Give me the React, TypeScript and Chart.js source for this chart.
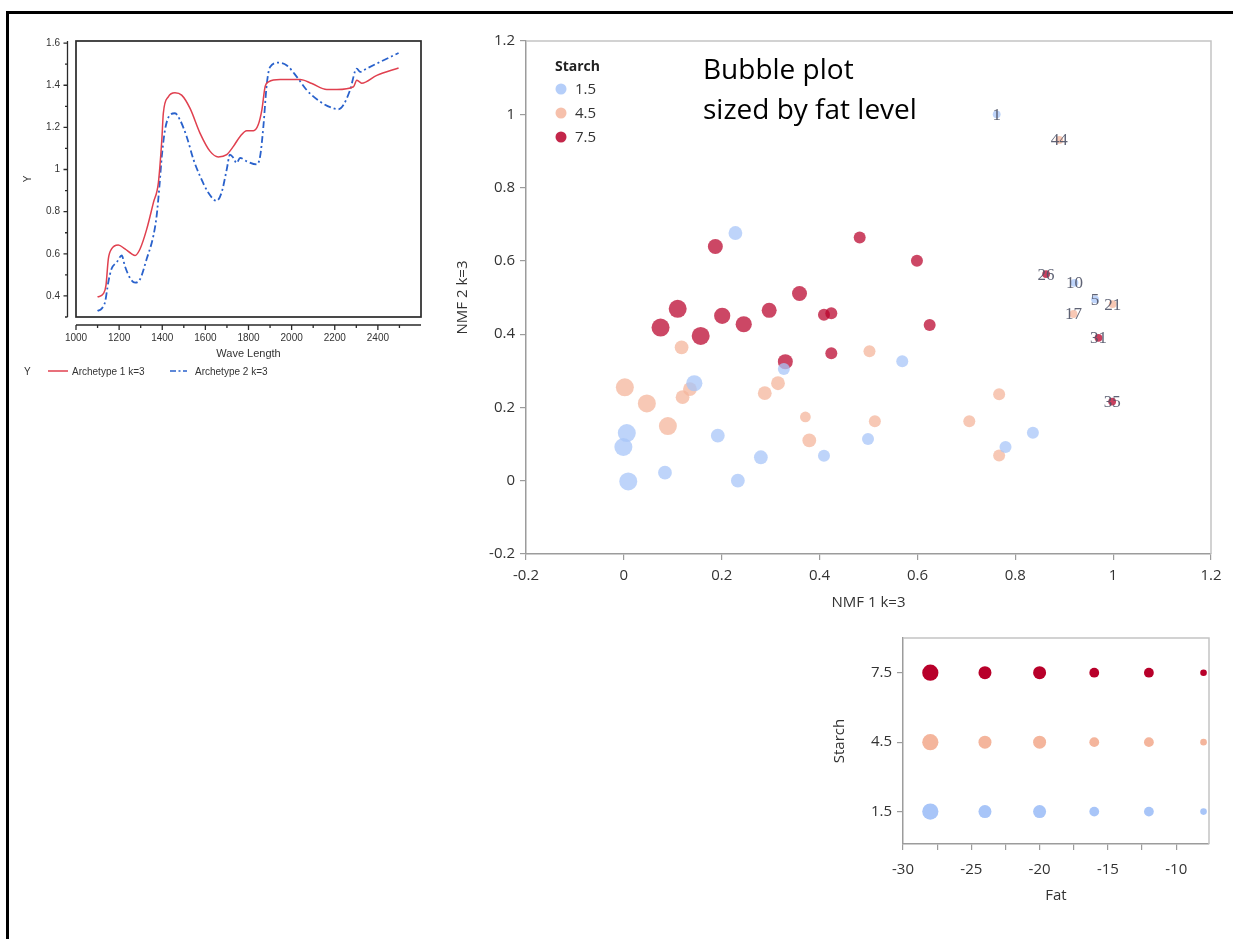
import React, { useEffect, useRef } from "react";
import { Chart, registerables } from "chart.js";
Chart.register(...registerables);

const FONT = "'Open Sans', 'Noto Sans', sans-serif";
const SMALL_FONT = "'Liberation Sans', Arial, sans-serif";
const LABEL_FONT = "'Liberation Serif', 'DejaVu Serif', serif";

// ---------- Spectrum chart (top-left) ----------
const arch1Wave = [1100, 1127, 1139, 1150, 1165, 1196, 1227, 1258, 1274, 1297, 1328, 1359, 1382, 1398, 1405, 1428, 1459, 1490, 1529, 1575, 1622, 1660, 1699, 1730, 1761, 1792, 1823, 1845, 1862, 1877, 1893, 1947, 2039, 2094, 2163, 2210, 2287, 2302, 2315, 2325, 2395, 2496];
const arch1Y = [0.395, 0.411, 0.45, 0.576, 0.623, 0.642, 0.623, 0.6, 0.592, 0.623, 0.717, 0.843, 0.937, 1.141, 1.267, 1.345, 1.364, 1.353, 1.29, 1.173, 1.086, 1.06, 1.071, 1.11, 1.157, 1.184, 1.184, 1.212, 1.283, 1.393, 1.416, 1.427, 1.427, 1.408, 1.38, 1.38, 1.393, 1.424, 1.416, 1.41, 1.447, 1.482];
const arch2Wave = [1100, 1119, 1135, 1150, 1165, 1189, 1212, 1227, 1252, 1274, 1297, 1328, 1359, 1374, 1387, 1398, 1413, 1436, 1459, 1482, 1513, 1545, 1575, 1614, 1652, 1675, 1699, 1714, 1730, 1745, 1761, 1792, 1838, 1854, 1869, 1885, 1900, 1939, 1978, 2024, 2070, 2132, 2194, 2217, 2240, 2271, 2302, 2318, 2333, 2395, 2496];
const arch2Y = [0.328, 0.34, 0.372, 0.466, 0.529, 0.56, 0.592, 0.541, 0.482, 0.463, 0.479, 0.576, 0.686, 0.78, 0.922, 1.063, 1.189, 1.259, 1.267, 1.236, 1.157, 1.047, 0.969, 0.89, 0.851, 0.89, 1.0, 1.071, 1.055, 1.031, 1.055, 1.039, 1.024, 1.063, 1.204, 1.408, 1.487, 1.507, 1.494, 1.44, 1.377, 1.322, 1.29, 1.286, 1.306, 1.377, 1.479, 1.463, 1.471, 1.503, 1.553];
const specXTicks = [1000, 1200, 1400, 1600, 1800, 2000, 2200, 2400];
const specXMinor = [1100, 1300, 1500, 1700, 1900, 2100, 2300, 2500];
const specYTicks = [0.4, 0.6, 0.8, 1, 1.2, 1.4, 1.6];
const specYMinor = [0.3, 0.5, 0.7, 0.9, 1.1, 1.3, 1.5];
const specSeriesNames = ["Archetype 1 k=3", "Archetype 2 k=3"];

// ---------- Main bubble chart ----------
const mainXTicks = [-0.2, 0, 0.2, 0.4, 0.6, 0.8, 1, 1.2];
const mainYTicks = [-0.2, 0, 0.2, 0.4, 0.6, 0.8, 1, 1.2];
const starchLegend = ["1.5", "4.5", "7.5"];

const blueX = [0.006, -0.001, 0.009, 0.084, 0.192, 0.233, 0.28, 0.144, 0.327, 0.409, 0.228, 0.569, 0.499, 0.78, 0.836];
const blueY = [0.13, 0.092, -0.002, 0.022, 0.123, 0.0, 0.064, 0.266, 0.305, 0.068, 0.676, 0.326, 0.114, 0.092, 0.131];
const blueFat = [-30, -30, -30, -23, -23, -23, -23, -27, -20, -20, -23, -20, -20, -20, -20];

const peachX = [0.118, 0.002, 0.047, 0.09, 0.12, 0.135, 0.288, 0.315, 0.371, 0.379, 0.502, 0.513, 0.706, 0.767, 0.767];
const peachY = [0.364, 0.255, 0.211, 0.149, 0.228, 0.25, 0.239, 0.266, 0.174, 0.11, 0.353, 0.162, 0.162, 0.236, 0.069];
const peachFat = [-23, -30, -30, -30, -23, -23, -23, -23, -18, -23, -20, -20, -20, -20, -20];

const redX = [0.187, 0.482, 0.599, 0.11, 0.075, 0.157, 0.201, 0.245, 0.297, 0.359, 0.409, 0.424, 0.625, 0.424, 0.33];
const redY = [0.639, 0.664, 0.6, 0.469, 0.418, 0.395, 0.45, 0.427, 0.465, 0.511, 0.453, 0.457, 0.425, 0.348, 0.325];
const redFat = [-25, -20, -20, -30, -30, -30, -27, -27, -25, -25, -20, -20, -20, -20, -25];

const labelIds = ["1", "44", "26", "10", "5", "21", "17", "31", "35"];
const labelX = [0.762, 0.89, 0.863, 0.921, 0.963, 0.999, 0.919, 0.97, 0.998];
const labelY = [1.0, 0.93, 0.564, 0.54, 0.495, 0.482, 0.455, 0.39, 0.216];
const labelStarch = [1.5, 4.5, 7.5, 1.5, 1.5, 4.5, 4.5, 7.5, 7.5];
const labelFat = [-13, -13, -13, -13, -13, -13, -13, -13, -13];

// ---------- Fat / Starch key chart ----------
const fatLevels = [-28, -24, -20, -16, -12, -8];
const starchLevels = [1.5, 4.5, 7.5];
const keyXTicks = [-30, -27.5, -25, -22.5, -20, -17.5, -15, -12.5, -10];
const keyYTicks = [1.5, 4.5, 7.5];

const BASE: Record<string, [number, number, number]> = {
  "1.5": [168, 197, 248],
  "4.5": [244, 181, 156],
  "7.5": [184, 0, 42],
};
const col = (s: number | string, a = 1) => {
  const c = BASE[String(s)];
  return `rgba(${c[0]},${c[1]},${c[2]},${a})`;
};
const mainRadius = (fat: number) => -fat * 0.3;
const keyRadius = (fat: number) => 3.3 + Math.ceil((-8 - fat) / 8) * 1.6;
const fmt = (v: number) => String(Math.round(v * 10) / 10);

const fixWidth = (w: number) => (s: any) => {
  s.width = w;
  s.paddingTop = 0;
  s.paddingBottom = 0;
  s.paddingLeft = 0;
  s.paddingRight = 0;
};
const fixHeight = (h: number) => (s: any) => {
  s.height = h;
  s.paddingTop = 0;
  s.paddingBottom = 0;
  s.paddingLeft = 0;
  s.paddingRight = 0;
};

function SpectrumChart() {
  const ref = useRef<HTMLCanvasElement>(null);
  useEffect(() => {
    const plugin = {
      id: "specAxes",
      afterDraw(chart: any) {
        const { ctx, chartArea: a, scales } = chart;
        const x = scales.x, y = scales.y;
        ctx.save();
        ctx.strokeStyle = "#2a2a2a";
        ctx.lineWidth = 1.7;
        ctx.strokeRect(a.left, a.top, a.right - a.left, a.bottom - a.top);
        ctx.lineWidth = 1.3;
        const ax = a.left - 8.5;
        ctx.beginPath();
        ctx.moveTo(ax, a.top);
        ctx.lineTo(ax, a.bottom);
        for (const v of specYTicks) {
          const p = y.getPixelForValue(v);
          ctx.moveTo(ax, p);
          ctx.lineTo(ax - 4, p);
        }
        for (const v of specYMinor) {
          const p = y.getPixelForValue(v);
          ctx.moveTo(ax, p);
          ctx.lineTo(ax - 2.5, p);
        }
        const ay = a.bottom + 8;
        ctx.moveTo(a.left, ay);
        ctx.lineTo(a.right, ay);
        for (const v of specXTicks) {
          const p = x.getPixelForValue(v);
          ctx.moveTo(p, ay);
          ctx.lineTo(p, ay + 5);
        }
        for (const v of specXMinor) {
          const p = x.getPixelForValue(v);
          ctx.moveTo(p, ay);
          ctx.lineTo(p, ay + 3);
        }
        ctx.stroke();
        // legend
        const ly = 341;
        ctx.font = `10px ${SMALL_FONT}`;
        ctx.fillStyle = "#333";
        ctx.textBaseline = "middle";
        ctx.textAlign = "left";
        ctx.fillText("Y", 14, ly + 1);
        ctx.strokeStyle = "#e0404f";
        ctx.lineWidth = 1.5;
        ctx.setLineDash([]);
        ctx.beginPath();
        ctx.moveTo(38, ly);
        ctx.lineTo(58, ly);
        ctx.stroke();
        ctx.fillText(specSeriesNames[0], 62, ly + 1);
        ctx.strokeStyle = "#2a62cc";
        ctx.lineWidth = 1.6;
        ctx.setLineDash([6, 2.5, 2, 2.5]);
        ctx.beginPath();
        ctx.moveTo(160, ly);
        ctx.lineTo(177, ly);
        ctx.stroke();
        ctx.setLineDash([]);
        ctx.fillText(specSeriesNames[1], 185, ly + 1);
        ctx.restore();
      },
    };
    const chart = new Chart(ref.current!, {
      type: "line",
      data: {
        datasets: [
          {
            label: specSeriesNames[0],
            data: arch1Wave.map((w, i) => ({ x: w, y: arch1Y[i] })),
            borderColor: "#e0404f",
            borderWidth: 1.5,
            pointRadius: 0,
            cubicInterpolationMode: "monotone",
            fill: false,
          },
          {
            label: specSeriesNames[1],
            data: arch2Wave.map((w, i) => ({ x: w, y: arch2Y[i] })),
            borderColor: "#2a62cc",
            borderWidth: 1.8,
            borderDash: [7, 3, 2, 3],
            pointRadius: 0,
            cubicInterpolationMode: "monotone",
            fill: false,
          },
        ],
      },
      options: {
        animation: false,
        responsive: false,
        devicePixelRatio: 1,
        events: [],
        layout: { autoPadding: false, padding: { left: 0, top: 11, right: 19, bottom: 13 } },
        plugins: { legend: { display: false }, tooltip: { enabled: false } },
        scales: {
          x: {
            type: "linear",
            min: 1000,
            max: 2600,
            afterBuildTicks: (s: any) => {
              s.ticks = specXTicks.map((v) => ({ value: v }));
            },
            afterFit: fixHeight(55),
            grid: { display: false, drawTicks: false },
            border: { display: false },
            ticks: {
              callback: (v: any) => String(v),
              font: { family: SMALL_FONT, size: 10 },
              color: "#333",
              padding: 15,
              maxRotation: 0,
              autoSkip: false,
            },
            title: {
              display: true,
              text: "Wave Length",
              font: { family: SMALL_FONT, size: 11 },
              color: "#333",
              padding: { top: 0, bottom: 11.4 },
            },
          },
          y: {
            type: "linear",
            min: 0.3,
            max: 1.61,
            afterBuildTicks: (s: any) => {
              s.ticks = specYTicks.map((v) => ({ value: v }));
            },
            afterFit: fixWidth(66),
            grid: { display: false, drawTicks: false },
            border: { display: false },
            ticks: {
              callback: (v: any) => fmt(v),
              font: { family: SMALL_FONT, size: 10 },
              color: "#333",
              padding: 16,
              autoSkip: false,
            },
            title: {
              display: true,
              text: "Y",
              font: { family: SMALL_FONT, size: 10 },
              color: "#333",
              padding: { top: 12, bottom: 0 },
            },
          },
        },
      } as any,
      plugins: [plugin],
    } as any);
    return () => chart.destroy();
  }, []);
  return (
    <canvas
      ref={ref}
      width={430}
      height={355}
      style={{ position: "absolute", left: 10, top: 30, width: 430, height: 355 }}
    />
  );
}

function MainBubble() {
  const ref = useRef<HTMLCanvasElement>(null);
  useEffect(() => {
    const plugin = {
      id: "mainDecor",
      beforeDatasetsDraw(chart: any) {
        const { ctx, chartArea: a } = chart;
        ctx.save();
        ctx.strokeStyle = "#c4c4c4";
        ctx.lineWidth = 1.5;
        ctx.beginPath();
        ctx.moveTo(a.left, a.top);
        ctx.lineTo(a.right, a.top);
        ctx.lineTo(a.right, a.bottom);
        ctx.stroke();
        ctx.restore();
      },
      afterDatasetsDraw(chart: any) {
        const { ctx } = chart;
        const meta = chart.getDatasetMeta(3);
        ctx.save();
        ctx.font = `17px ${LABEL_FONT}`;
        ctx.fillStyle = "rgba(78,82,102,0.9)";
        ctx.textAlign = "center";
        ctx.textBaseline = "middle";
        meta.data.forEach((el: any, i: number) => {
          ctx.fillText(labelIds[i], el.x, el.y + 1);
        });
        ctx.restore();
      },
      afterDraw(chart: any) {
        const { ctx, chartArea: a } = chart;
        ctx.save();
        const lx = a.left + 29;
        ctx.textBaseline = "middle";
        ctx.textAlign = "left";
        ctx.fillStyle = "#222";
        ctx.font = `bold 14px ${FONT}`;
        ctx.fillText("Starch", lx, a.top + 26);
        ctx.font = `15px ${FONT}`;
        starchLegend.forEach((s, i) => {
          const cy = a.top + 48 + i * 24;
          ctx.beginPath();
          ctx.fillStyle = col(s, 0.85);
          ctx.arc(lx + 6, cy, 5.5, 0, Math.PI * 2);
          ctx.fill();
          ctx.fillStyle = "#333";
          ctx.fillText(s, lx + 20, cy + 1);
        });
        ctx.restore();
      },
    };
    const mk = (xs: number[], ys: number[], fats: number[]) =>
      xs.map((x, i) => ({ x, y: ys[i], r: mainRadius(fats[i]) }));
    const chart = new Chart(ref.current!, {
      type: "bubble",
      data: {
        datasets: [
          { label: "1.5", data: mk(blueX, blueY, blueFat), backgroundColor: col(1.5, 0.75), borderWidth: 0 },
          { label: "4.5", data: mk(peachX, peachY, peachFat), backgroundColor: col(4.5, 0.75), borderWidth: 0 },
          { label: "7.5", data: mk(redX, redY, redFat), backgroundColor: col(7.5, 0.72), borderWidth: 0 },
          {
            label: "labeled",
            data: mk(labelX, labelY, labelFat),
            backgroundColor: labelStarch.map((s) => col(s, 0.75)),
            borderWidth: 0,
          },
        ],
      },
      options: {
        animation: false,
        responsive: false,
        devicePixelRatio: 1,
        events: [],
        clip: false,
        layout: { autoPadding: false, padding: { left: 0, top: 11, right: 19, bottom: 0 } },
        plugins: { legend: { display: false }, tooltip: { enabled: false } },
        scales: {
          x: {
            type: "linear",
            min: -0.2,
            max: 1.2,
            afterBuildTicks: (s: any) => {
              s.ticks = mainXTicks.map((v) => ({ value: v }));
            },
            afterFit: fixHeight(76),
            grid: { drawOnChartArea: false, drawTicks: true, tickLength: 6, color: "#9c9c9c", lineWidth: 1.2 },
            border: { display: true, color: "#9c9c9c", width: 1.5 },
            ticks: {
              callback: (v: any) => fmt(v),
              font: { family: FONT, size: 15 },
              color: "#333",
              padding: 7,
              maxRotation: 0,
              autoSkip: false,
            },
            title: {
              display: true,
              text: "NMF 1 k=3",
              font: { family: FONT, size: 15 },
              color: "#333",
              padding: { top: 0, bottom: 18 },
            },
          },
          y: {
            type: "linear",
            min: -0.2,
            max: 1.2,
            afterBuildTicks: (s: any) => {
              s.ticks = mainYTicks.map((v) => ({ value: v }));
            },
            afterFit: fixWidth(86),
            grid: { drawOnChartArea: false, drawTicks: true, tickLength: 6, color: "#9c9c9c", lineWidth: 1.2 },
            border: { display: true, color: "#9c9c9c", width: 1.5 },
            ticks: {
              callback: (v: any) => fmt(v),
              font: { family: FONT, size: 15 },
              color: "#333",
              padding: 5,
              autoSkip: false,
            },
            title: {
              display: true,
              text: "NMF 2 k=3",
              font: { family: FONT, size: 15 },
              color: "#333",
              padding: { top: 14, bottom: 0 },
            },
          },
        },
      } as any,
      plugins: [plugin],
    } as any);
    return () => chart.destroy();
  }, []);
  return (
    <canvas
      ref={ref}
      width={790}
      height={600}
      style={{ position: "absolute", left: 440, top: 30, width: 790, height: 600 }}
    />
  );
}

function FatStarchChart() {
  const ref = useRef<HTMLCanvasElement>(null);
  useEffect(() => {
    const plugin = {
      id: "keyFrame",
      beforeDatasetsDraw(chart: any) {
        const { ctx, chartArea: a } = chart;
        ctx.save();
        ctx.strokeStyle = "#c4c4c4";
        ctx.lineWidth = 1.5;
        ctx.beginPath();
        ctx.moveTo(a.left, a.top);
        ctx.lineTo(a.right, a.top);
        ctx.lineTo(a.right, a.bottom);
        ctx.stroke();
        ctx.restore();
      },
    };
    const chart = new Chart(ref.current!, {
      type: "bubble",
      data: {
        datasets: starchLevels.map((s) => ({
          label: String(s),
          data: fatLevels.map((f) => ({ x: f, y: s, r: keyRadius(f) })),
          backgroundColor: col(s, 1),
          borderWidth: 0,
        })),
      },
      options: {
        animation: false,
        responsive: false,
        devicePixelRatio: 1,
        events: [],
        clip: false,
        layout: { autoPadding: false, padding: { left: 0, top: 8, right: 24, bottom: 0 } },
        plugins: { legend: { display: false }, tooltip: { enabled: false } },
        scales: {
          x: {
            type: "linear",
            min: -30,
            max: -7.6,
            afterBuildTicks: (s: any) => {
              s.ticks = keyXTicks.map((v) => ({ value: v }));
            },
            afterFit: fixHeight(66),
            grid: { drawOnChartArea: false, drawTicks: true, tickLength: 6, color: "#9c9c9c", lineWidth: 1.2 },
            border: { display: true, color: "#9c9c9c", width: 1.5 },
            ticks: {
              callback: (v: any) => (Number.isInteger(v / 5) ? String(v) : ""),
              font: { family: FONT, size: 15 },
              color: "#333",
              padding: 11,
              maxRotation: 0,
              autoSkip: false,
            },
            title: {
              display: true,
              text: "Fat",
              font: { family: FONT, size: 15 },
              color: "#333",
              padding: { top: 0, bottom: 5 },
            },
          },
          y: {
            type: "linear",
            min: 0.1,
            max: 9,
            afterBuildTicks: (s: any) => {
              s.ticks = keyYTicks.map((v) => ({ value: v }));
            },
            afterFit: fixWidth(83),
            grid: { drawOnChartArea: false, drawTicks: true, tickLength: 6, color: "#9c9c9c", lineWidth: 1.2 },
            border: { display: true, color: "#9c9c9c", width: 1.5 },
            ticks: {
              callback: (v: any) => fmt(v),
              font: { family: FONT, size: 15 },
              color: "#333",
              padding: 5,
              autoSkip: false,
            },
            title: {
              display: true,
              text: "Starch",
              font: { family: FONT, size: 15 },
              color: "#333",
              padding: { top: 11, bottom: 0 },
            },
          },
        },
      } as any,
      plugins: [plugin],
    } as any);
    return () => chart.destroy();
  }, []);
  return (
    <canvas
      ref={ref}
      width={413}
      height={280}
      style={{ position: "absolute", left: 820, top: 630, width: 413, height: 280 }}
    />
  );
}

export default function App() {
  return (
    <div
      style={{
        position: "fixed",
        left: 0,
        top: 0,
        width: 1233,
        height: 939,
        background: "#fff",
        overflow: "hidden",
      }}
    >
      <div
        style={{
          position: "absolute",
          left: 6,
          top: 11,
          width: 1240,
          height: 940,
          borderTop: "3px solid #000",
          borderLeft: "3px solid #000",
        }}
      />
      <SpectrumChart />
      <MainBubble />
      <FatStarchChart />
      <div
        style={{
          position: "absolute",
          left: 703,
          top: 48,
          font: `28px ${FONT}`,
          lineHeight: "40px",
          color: "#000",
          whiteSpace: "nowrap",
        }}
      >
        Bubble plot
        <br />
        sized by fat level
      </div>
    </div>
  );
}
